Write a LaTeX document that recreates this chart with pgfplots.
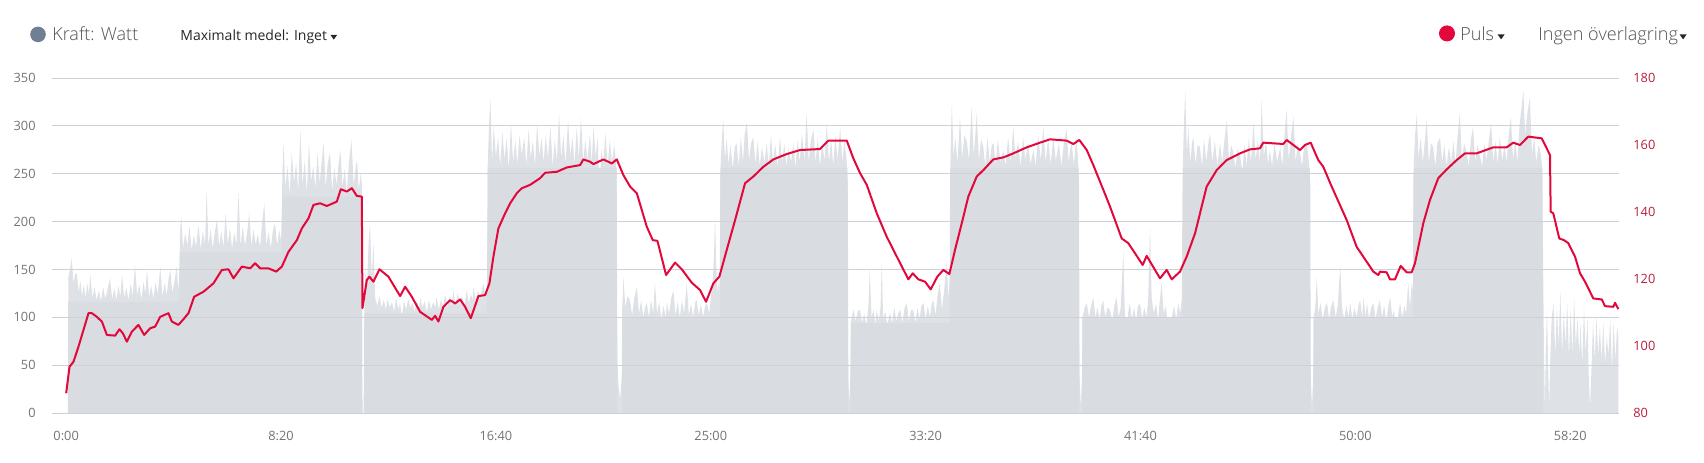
\documentclass[border=0pt]{standalone}
\usepackage{fontspec}
\setmainfont{Open Sans}
\IfFontExistsTF{Open Sans Light}{\newfontfamily\lightfont{Open Sans Light}}{\newcommand{\lightfont}{}}
\usepackage{pgfplots}
\pgfplotsset{compat=1.18}

\definecolor{areagrey}{RGB}{217,221,225}
\definecolor{spikegrey}{RGB}{222,225,229}
\definecolor{gridgrey}{RGB}{206,209,213}
\definecolor{hrred}{RGB}{226,8,60}
\definecolor{hrlabel}{RGB}{185,30,60}
\definecolor{labelgrey}{RGB}{115,115,115}
\definecolor{kraftdot}{RGB}{110,128,146}
\definecolor{headgrey}{RGB}{80,80,80}

\newcommand{\tickfont}{\fontsize{6.4pt}{7pt}\selectfont}
\newcommand{\headfont}{\lightfont\fontsize{9pt}{10pt}\selectfont}

\begin{document}
\begin{tikzpicture}
\useasboundingbox (0,0) rectangle (852pt,231pt);

% header
\fill[kraftdot] (19pt,213.8pt) circle (3.9pt);
\node[anchor=base west, inner sep=0pt, text=headgrey, font=\headfont] at (26pt,210.6pt) {Kraft: Watt};
\node[anchor=base west, inner sep=0pt, text=black!85, font=\fontsize{7pt}{9pt}\selectfont] at (90pt,210.6pt) {Maximalt medel: Inget};
\fill[black!85] (165.2pt,213.6pt) -- (168.6pt,213.6pt) -- (166.9pt,211.2pt) -- cycle;
\fill[hrred] (723.5pt,214.3pt) circle (4pt);
\node[anchor=base west, inner sep=0pt, text=headgrey, font=\headfont] at (730pt,211pt) {Puls};
\fill[black!85] (748.8pt,213.8pt) -- (752.3pt,213.8pt) -- (750.55pt,211.3pt) -- cycle;
\node[anchor=base west, inner sep=0pt, text=headgrey, font=\headfont] at (769pt,211pt) {Ingen överlagring};
\fill[black!85] (839.8pt,213.8pt) -- (843.3pt,213.8pt) -- (841.55pt,211.3pt) -- cycle;

% power (left axis)
\begin{axis}[
  at={(26pt,24.5pt)}, anchor=south west,
  scale only axis, width=783.5pt, height=167.5pt,
  xmin=-33, xmax=3613.5, ymin=0, ymax=350,
  axis line style={draw=none},
  major tick length=0pt,
  ytick={0,50,...,350},
  xtick={0,500,...,3500},
  xticklabels={0:00,8:20,16:40,25:00,33:20,41:40,50:00,58:20},
  ymajorgrids, grid style={gridgrey, line width=0.5pt},
  axis on top,
  /pgf/number format/assume math mode=true,
  tick label style={font=\tickfont, text=labelgrey},
  yticklabel style={anchor=east, inner sep=0pt, xshift=-8pt},
  xticklabel style={anchor=center, inner sep=0pt, yshift=-11.25pt},
]
% peaks
\addplot[fill=spikegrey, draw=none] coordinates {
(4,0)(5,142)(9,150)(13,162)(17,135)(21,146)(25,145)(29,126)(33,138)(37,122)(41,134)(45,120)(49,136)(53,124)(56,145)(61,120)(66,131)(71,118)(76,128)(81,117)(86,132)(91,119)(96,128)(102,141)(107,119)(112,130)(117,118)(122,133)(126,121)(130,145)(135,120)(140,131)(145,118)(150,135)(155,122)(160,155)(165,123)(170,134)(175,119)(180,137)(184,124)(188,150)(193,121)(198,133)(203,119)(208,137)(213,124)(219,153)(224,121)(229,136)(234,123)(238,139)(242,150)(247,126)(252,137)(257,153)(261,128)
(264,150)(265,190)(268,205)(272,172)(277,188)(282,175)(287,195)(292,170)(297,186)(302,174)(308,196)(313,171)(318,190)(323,176)(327,233)(331,175)(336,192)(341,172)(346,189)(351,202)(356,174)(361,190)(366,173)(371,209)(376,176)(381,193)(386,172)(391,189)(396,176)(401,230)(406,174)(411,195)(416,175)(421,188)(426,209)(431,174)(436,192)(441,176)(446,187)(451,173)(456,199)(461,219)(466,175)(471,189)(476,172)(481,191)(486,198)(491,175)(496,191)(500,180)
(502,200)(503,250)(506,282)(510,235)(515,258)(520,228)(525,272)(530,240)(535,262)(540,232)(545,296)(550,238)(555,264)(560,230)(565,282)(570,242)(575,258)(580,235)(585,272)(590,240)(594,260)(599,282)(604,236)(609,262)(614,272)(619,232)(624,256)(629,238)(634,260)(638,275)(643,236)(648,255)(653,230)(658,262)(664,285)(669,238)(674,258)(677,264)(681,232)(685,250)(688,240)
(689,30)(690,0)(692,0)(693,40)
(694,120)(697,150)(700,130)(704,180)(707,198)(711,140)(715,178)(719,120)(724,112)(729,122)(734,110)(739,118)(744,108)(748,119)(753,110)(758,116)(763,106)(768,120)(773,108)(777,115)(781,100)(786,117)(791,108)(796,119)(801,110)(806,115)(811,106)(816,118)(821,108)(824,120)(829,110)(834,117)(839,105)(844,118)(849,108)(854,116)(859,110)(862,121)(867,108)(872,118)(877,112)(882,124)(887,110)(892,122)(897,112)(901,128)(906,113)(911,125)(916,114)(921,122)(927,113)(932,128)(937,115)(942,124)(946,118)(948,132)(953,118)(958,128)(963,120)(967,128)(971,136)(975,124)(978,130)
(980,130)(981,260)(984,300)(987,330)(991,262)(995,299)(1000,268)(1005,288)(1010,258)(1015,294)(1020,265)(1025,288)(1030,255)(1035,303)(1040,262)(1045,285)(1050,260)(1055,290)(1060,270)(1066,288)(1071,258)(1076,296)(1081,266)(1086,284)(1091,258)(1096,303)(1101,268)(1106,288)(1111,262)(1116,290)(1121,266)(1127,299)(1132,258)(1137,285)(1142,264)(1147,313)(1152,266)(1157,290)(1162,260)(1168,306)(1173,268)(1178,288)(1183,260)(1188,298)(1193,266)(1198,309)(1203,262)(1208,285)(1213,264)(1219,292)(1223,260)(1227,299)(1232,268)(1237,288)(1241,222)(1245,275)(1250,262)(1255,292)(1260,258)(1265,285)(1270,262)(1275,280)(1279,265)(1281,250)
(1282,60)(1285,30)(1289,14)(1293,40)
(1294,110)(1297,142)(1301,110)(1306,122)(1312,118)(1317,102)(1322,120)(1328,132)(1333,104)(1338,118)(1343,100)(1348,112)(1351,115)(1356,100)(1361,118)(1366,104)(1370,136)(1375,104)(1380,116)(1385,98)(1390,112)(1395,100)(1398,115)(1403,104)(1408,120)(1413,128)(1418,102)(1423,116)(1428,100)(1433,118)(1438,104)(1444,136)(1449,102)(1454,114)(1459,100)(1464,116)(1467,118)(1472,102)(1477,114)(1482,100)(1487,112)(1491,115)(1496,104)(1500,120)(1505,140)(1508,170)(1510,205)(1513,150)(1516,125)(1519,140)(1521,120)
(1522,250)(1525,280)(1529,306)(1533,264)(1537,288)(1541,260)(1546,280)(1551,256)(1556,278)(1560,282)(1565,258)(1570,288)(1575,262)(1579,292)(1584,303)(1589,264)(1594,282)(1599,288)(1604,260)(1609,284)(1614,258)(1619,278)(1625,262)(1630,282)(1635,258)(1640,290)(1645,262)(1650,280)(1656,258)(1661,288)(1666,262)(1671,282)(1676,258)(1681,276)(1687,262)(1692,282)(1697,256)(1702,285)(1707,262)(1712,292)(1718,264)(1723,313)(1728,262)(1733,285)(1739,296)(1744,262)(1749,288)(1754,258)(1759,282)(1765,264)(1770,303)(1775,262)(1780,286)(1785,258)(1790,290)(1795,264)(1801,299)(1806,262)(1811,284)(1816,265)(1819,240)
(1820,40)(1822,10)(1825,40)
(1826,95)(1832,108)(1837,96)(1842,106)(1847,108)(1852,94)(1857,104)(1862,92)(1867,112)(1870,150)(1874,100)(1879,108)(1883,92)(1886,108)(1891,96)(1895,110)(1898,157)(1901,98)(1906,106)(1911,92)(1917,105)(1922,94)(1927,110)(1932,96)(1936,104)(1941,108)(1946,94)(1951,110)(1956,115)(1961,96)(1966,108)(1971,108)(1976,94)(1981,110)(1986,98)(1990,112)(1995,115)(2000,98)(2005,112)(2010,100)(2014,114)(2018,118)(2023,102)(2028,124)(2033,136)(2038,108)(2043,128)(2049,157)(2053,120)(2056,140)
(2057,250)(2061,324)(2065,268)(2069,288)(2074,262)(2080,309)(2085,266)(2090,290)(2096,283)(2101,264)(2107,320)(2112,268)(2119,313)(2124,264)(2129,286)(2134,278)(2139,258)(2144,288)(2149,262)(2154,280)(2158,282)(2163,260)(2168,286)(2174,262)(2181,275)(2186,258)(2192,288)(2198,262)(2204,299)(2209,266)(2215,284)(2221,258)(2227,288)(2232,264)(2238,282)(2244,260)(2251,275)(2256,258)(2262,290)(2268,264)(2274,299)(2279,262)(2285,286)(2291,260)(2297,288)(2303,264)(2310,282)(2316,258)(2322,284)(2328,296)(2333,262)(2339,284)(2345,260)(2351,288)(2355,262)(2357,240)
(2358,40)(2361,6)(2364,40)
(2365,100)(2370,110)(2375,115)(2380,100)(2385,112)(2390,121)(2395,100)(2400,110)(2405,98)(2409,112)(2413,118)(2418,100)(2423,110)(2429,108)(2434,96)(2439,112)(2444,121)(2449,100)(2454,110)(2458,150)(2460,170)(2463,110)(2467,80)(2471,104)(2475,115)(2480,98)(2485,110)(2490,96)(2494,112)(2499,114)(2504,98)(2509,110)(2514,100)(2518,120)(2522,194)(2526,120)(2531,104)(2536,114)(2541,98)(2545,118)(2549,136)(2554,104)(2559,112)(2564,90)(2569,66)(2573,100)(2578,112)(2583,98)(2588,115)(2592,104)(2596,118)
(2598,250)(2601,300)(2604,337)(2608,270)(2611,299)(2616,262)(2620,282)(2623,288)(2628,260)(2633,280)(2638,278)(2643,258)(2648,286)(2653,262)(2658,282)(2662,292)(2667,262)(2673,284)(2679,258)(2685,282)(2690,262)(2696,288)(2701,306)(2706,262)(2711,280)(2716,272)(2721,256)(2726,276)(2732,268)(2737,252)(2742,280)(2747,258)(2752,288)(2757,262)(2763,303)(2768,264)(2773,285)(2778,262)(2782,327)(2787,268)(2792,284)(2797,260)(2801,275)(2806,258)(2812,282)(2818,262)(2825,278)(2830,258)(2835,290)(2840,317)(2845,264)(2850,288)(2856,309)(2861,262)(2866,282)(2871,272)(2876,258)(2881,280)(2887,282)(2892,262)(2895,240)
(2896,40)(2899,6)(2902,40)
(2903,100)(2907,112)(2910,142)(2914,104)(2919,115)(2924,98)(2929,110)(2934,115)(2939,98)(2944,112)(2949,118)(2954,100)(2959,112)(2962,135)(2965,153)(2969,110)(2974,98)(2979,112)(2984,100)(2988,115)(2993,98)(2998,110)(3003,100)(3007,112)(3011,118)(3016,100)(3019,121)(3024,100)(3027,115)(3032,98)(3037,110)(3042,115)(3047,98)(3052,110)(3057,118)(3062,100)(3067,112)(3072,96)(3076,110)(3081,121)(3086,100)(3090,108)(3095,82)(3100,104)(3104,115)(3109,100)(3114,112)(3118,104)(3123,136)(3127,110)(3131,136)(3134,125)
(3135,250)(3139,290)(3143,313)(3147,266)(3152,288)(3157,262)(3162,286)(3166,306)(3171,262)(3176,282)(3181,278)(3186,258)(3191,282)(3197,288)(3202,262)(3207,280)(3212,258)(3218,278)(3223,262)(3228,284)(3233,260)(3238,290)(3243,313)(3248,264)(3253,282)(3259,272)(3264,258)(3269,286)(3274,299)(3279,262)(3284,280)(3290,268)(3295,258)(3300,282)(3305,264)(3311,286)(3316,303)(3321,262)(3326,284)(3331,260)(3336,288)(3342,264)(3347,280)(3352,262)(3357,292)(3362,309)(3367,264)(3372,286)(3377,262)(3382,300)(3387,320)(3391,337)(3395,290)(3400,312)(3406,330)(3411,270)(3416,288)(3421,262)(3426,280)(3431,272)(3435,255)
(3437,150)(3439,60)(3441,5)(3443,60)(3446,110)(3449,40)(3451,5)(3453,50)(3457,100)(3461,115)(3465,60)(3469,110)(3473,70)(3477,128)(3481,62)(3485,105)(3489,70)(3493,115)(3497,58)(3501,108)(3505,62)(3509,121)(3513,70)(3517,100)(3521,60)(3524,94)(3528,50)(3532,110)(3536,62)(3540,100)(3543,40)(3546,5)(3549,40)(3553,95)(3557,55)(3561,100)(3565,60)(3569,90)(3573,55)(3577,94)(3581,50)(3585,80)(3589,60)(3593,100)(3597,45)(3601,94)(3605,55)(3609,90)(3612,80)(3612,0)
} \closedcycle;
% solid part
\addplot[fill=areagrey, draw=none] coordinates {
(5,0)(5,116)(263,116)(264,168)(501,168)(502,226)(688,226)(689,0)(693,0)(694,104)(979,104)(981,256)(1281,256)(1283,0)(1293,0)(1294,100)(1521,100)(1523,256)(1818,256)(1820,0)(1825,0)(1826,94)(2056,94)(2058,256)(2356,256)(2358,0)(2364,0)(2365,100)(2597,100)(2599,256)(2894,256)(2896,0)(2902,0)(2903,100)(3134,100)(3136,256)(3435,256)(3437,0)
} \closedcycle;
\end{axis}

% heart rate (right axis)
\begin{axis}[
  at={(26pt,24.5pt)}, anchor=south west,
  scale only axis, width=783.5pt, height=167.5pt,
  xmin=-33, xmax=3613.5, ymin=80, ymax=180,
  axis y line*=right, hide x axis,
  axis line style={draw=none},
  major tick length=0pt,
  ytick={80,100,...,180},
  /pgf/number format/assume math mode=true,
  yticklabel style={font=\tickfont, text=hrlabel, anchor=west, inner sep=0pt, xshift=7pt},
]
\addplot[hrred, line width=1pt, line join=round] coordinates {
(0,85.9)(7.7,93.8)(17,95.3)(28.6,99.8)(40.3,104.8)(51.9,109.8)(59.8,109.8)(71.4,108.7)(83.1,107.3)(94.7,103.3)(114,103.1)(124,105)(131.9,103.8)(141.2,101.3)(152.9,104.3)(168.2,106.3)(181.5,103.3)(195.4,105.3)(207.1,105.8)(218.7,108.7)(238,109.8)(245.9,107.3)(261.3,106.3)(272.9,108)(284.6,109.8)(297.8,114.7)(319.5,116.2)(342.7,118.7)(362.3,122.7)(377.6,122.9)(389.3,120.2)(408.8,123.7)(428.1,123.2)(439.7,124.7)(451.4,123.2)(470.7,123.2)(488.6,122.2)(501.9,123.7)(517.2,128.1)(536.8,131.6)(548.4,135.1)(563.8,138.1)(575.4,142.1)(591,142.6)(606.6,141.8)(629.8,143.1)(639.1,146.8)(653.1,146.1)(664.7,147.1)(676.4,144.8)(688,144.6)
(689.4,111.3)(699.6,119.7)(705.7,120.7)(715,119.2)(729,122.9)(749.9,120.7)(777.1,114.9)(788.8,117.7)(804.3,114.7)(823.7,110.2)(850.9,107.8)(858.6,109)(866.2,107.3)(877.9,111.7)(893.4,113.7)(905.1,112.7)(916.7,113.9)(928.3,111.7)(941.6,108.3)(959.3,114.9)(974.9,115.2)(984.9,118.7)(994.2,126.7)(1005.8,135.1)(1021.4,139.6)(1033.1,142.6)(1048.7,145.6)(1060.3,147.1)(1079.6,148.1)(1102.9,150.1)(1114.5,151.7)(1141.7,152)(1165,153.3)(1195.9,154)(1203.6,155.7)(1219.2,155)(1226.9,154.3)(1250.1,155.7)(1269.7,154.5)(1281.3,155.7)
(1296.7,151)(1312.3,147.6)(1327.9,145.6)(1351.1,135.6)(1365.1,131.6)(1375.8,131.4)(1396,121.2)(1417,124.9)(1432.6,122.9)(1455.8,118.9)(1475.1,116.7)(1489,113.2)(1506,118.7)(1520,120.7)(1537.2,128.7)(1556.6,137.6)(1579.8,148.6)(1599.1,150.6)(1622.4,153.5)(1645.7,155.7)(1676.8,157.3)(1707.8,158.5)(1754.3,158.8)(1773.7,161.3)(1816.5,161.3)
(1831.8,156)(1847.4,151.6)(1863,148.1)(1886.3,139.6)(1909.5,132.6)(1932.8,126.7)(1959.8,119.9)(1970,121.7)(1983,119.9)(1998.6,119.2)(2011.8,116.9)(2027.2,120.7)(2041.2,122.7)(2055.2,121.5)(2068.4,128.7)(2084,136.6)(2099.3,144.6)(2118.9,150.6)(2134.3,152.5)(2157.5,155.7)(2180.8,156.3)(2204.1,157.5)(2235.2,159.3)(2266.2,160.7)(2289.5,161.7)(2328.3,161.3)(2343.7,160.3)(2357.6,161.5)(2374.9,158.5)(2390.2,154)(2413.5,146.6)(2429.1,141.6)
(2456.3,132.1)(2471.6,130.7)(2505.1,124.2)(2514.4,126.9)(2545.4,120.2)(2561,122.7)(2572.6,119.9)(2591.9,122.2)(2607.5,126.7)(2626.8,133.6)(2654,147.6)(2677.3,152.5)(2700.6,155.5)(2731.5,157.5)(2754.8,158.7)(2778,159)(2785.7,160.7)(2832.2,160.3)(2840.2,161.5)(2871.1,158.5)(2882.7,160)(2896,160.7)(2913.7,155.5)(2925.3,153.5)(2944.9,147.6)(2979.8,137.6)(3003,129.6)(3034,123.7)
(3041.7,122.2)(3053.3,121.2)(3057.2,122.2)(3072.8,122)(3080.5,119.9)(3092.2,119.9)(3105.4,123.9)(3119.4,122)(3131,122)(3138.7,124.7)(3158,136.6)(3173.6,143.6)(3192.9,150.1)(3212.4,152.7)(3235.7,155.5)(3255,157.5)(3282.2,157.5)(3320.8,159.3)(3352,159.3)(3367.4,160.7)(3383,160)(3402.3,162.5)(3433.5,162)(3445.2,159)(3452.9,157)
(3454.5,140.1)(3460.6,139.6)(3474.5,132.1)(3485.5,131.6)(3495.5,130.7)(3511.1,126.7)(3522.8,121.7)(3534.4,119.2)(3553.7,114.2)(3573.3,113.9)(3581,111.9)(3600.3,111.7)(3604.3,112.9)(3612,111)
};
\end{axis}
\end{tikzpicture}
\end{document}
